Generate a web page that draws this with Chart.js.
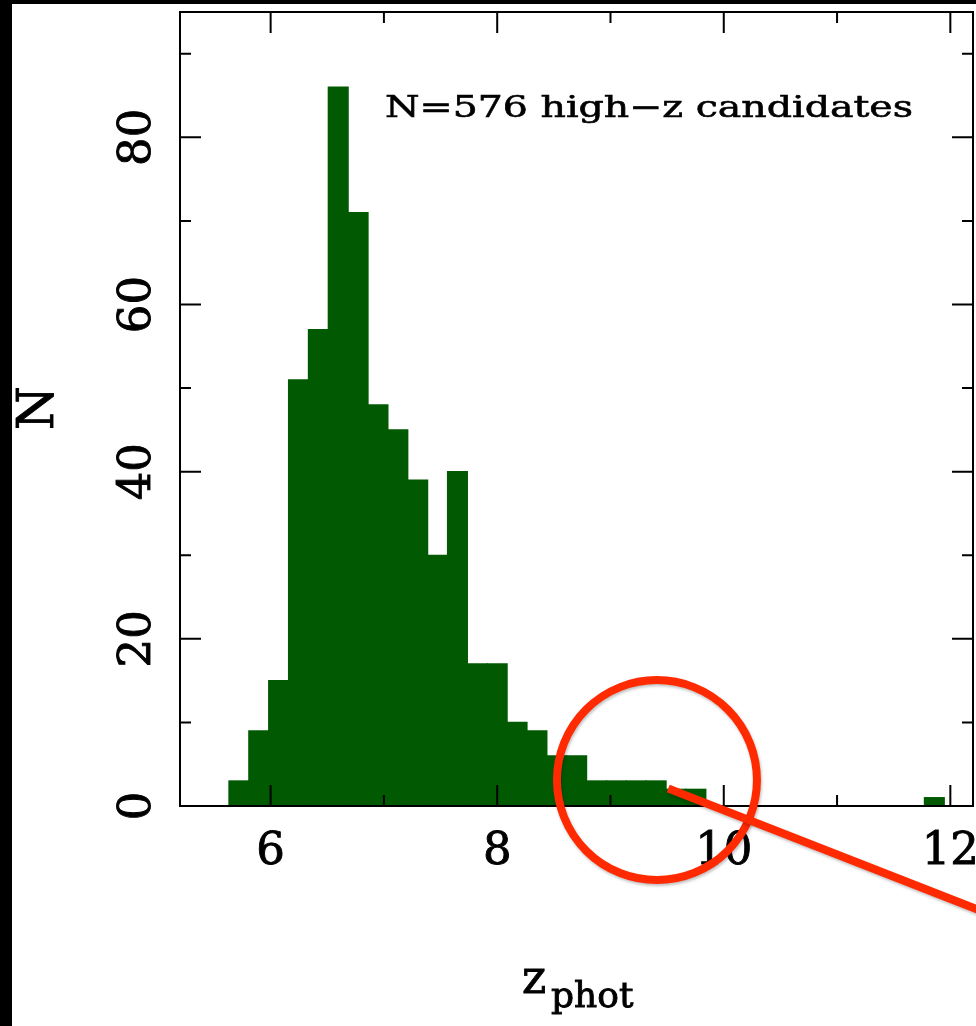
<!DOCTYPE html>
<html>
<head>
<meta charset="utf-8">
<title>z_phot histogram</title>
<script src="https://cdn.jsdelivr.net/npm/chart.js@4.4.1/dist/chart.umd.min.js"></script>
<style>
    body { margin: 0; background: #ffffff; }
    #wrap { position: relative; width: 976px; height: 1026px; overflow: hidden; }
    #edgeLeft { position: absolute; left: 0; top: 0; width: 12px; height: 1026px; background: #000; }
    #edgeTop { position: absolute; left: 0; top: 0; width: 976px; height: 4px; background: #000; }
</style>
</head>
<body>
<div id="wrap">
    <canvas id="histChart" width="976" height="1026"></canvas>
    <div id="edgeLeft"></div>
    <div id="edgeTop"></div>
</div>
<script>
// histogram bins (photometric redshift)
var binStart = 5.632;
var binWidth = 0.1754;

// number of candidates in each bin
var binCounts = [3, 9, 15, 51, 57, 86, 71, 48, 45, 39, 30, 40, 17, 17, 10, 9, 6, 6,
    3, 3, 3, 3, 2, 2, 0, 0, 0, 0, 0, 0, 0, 0, 0, 0, 0, 1];

// axis ticks
var xMajorTicks = [6, 8, 10, 12];
var xMinorTicks = [7, 9, 11];
var yMajorTicks = [0, 20, 40, 60, 80];
var yMinorTicks = [10, 30, 50, 70, 90];

var annotationText = 'N=576 high\u2212z candidates';

// red circle marking the tail (data coords)
var circleCenter = { x: 9.41, y: 3.1 };
var pointerLine = [{ x: 9.51, y: 2.1 }, { x: 12.3, y: -12.7 }];

var histData = binCounts.map(function (count, i) {
    return { x: binStart + (i + 0.5) * binWidth, y: count };
});

// draws the frame, inward ticks, labels and the red marker
var framePlugin = {
    id: 'framePlugin',
    afterDraw: function (chart) {
        var ctx = chart.ctx;
        var area = chart.chartArea;
        var xs = chart.scales.x;
        var ys = chart.scales.y;

        ctx.save();
        ctx.strokeStyle = '#000';
        ctx.lineWidth = 2;
        ctx.strokeRect(area.left, area.top, area.right - area.left, area.bottom - area.top);

        ctx.beginPath();
        function xTick(v, len) {
            var px = xs.getPixelForValue(v);
            ctx.moveTo(px, area.bottom); ctx.lineTo(px, area.bottom - len);
            ctx.moveTo(px, area.top); ctx.lineTo(px, area.top + len);
        }
        function yTick(v, len) {
            var py = ys.getPixelForValue(v);
            ctx.moveTo(area.left, py); ctx.lineTo(area.left + len, py);
            ctx.moveTo(area.right, py); ctx.lineTo(area.right - len, py);
        }
        xMajorTicks.forEach(function (v) { xTick(v, 21); });
        xMinorTicks.forEach(function (v) { xTick(v, 11); });
        yMajorTicks.forEach(function (v) { yTick(v, 21); });
        yMinorTicks.forEach(function (v) { yTick(v, 11); });
        ctx.stroke();

        // slightly heavier glyphs, like the plotting font of the original
        ctx.fillStyle = '#000';
        ctx.lineWidth = 0.9;
        function heavyText(txt, x, y) {
            ctx.fillText(txt, x, y);
            ctx.strokeText(txt, x, y);
        }

        // tick labels
        ctx.font = '45px "DejaVu Serif"';
        ctx.textAlign = 'center';
        ctx.textBaseline = 'alphabetic';
        xMajorTicks.forEach(function (v) {
            heavyText(String(v), xs.getPixelForValue(v), 864);
        });
        yMajorTicks.forEach(function (v) {
            ctx.save();
            ctx.translate(150, ys.getPixelForValue(v));
            ctx.rotate(-Math.PI / 2);
            heavyText(String(v), 0, 0);
            ctx.restore();
        });

        // axis titles
        ctx.save();
        ctx.translate(53, 408);
        ctx.rotate(-Math.PI / 2);
        ctx.font = '50px "DejaVu Serif"';
        heavyText('N', 0, 0);
        ctx.restore();

        ctx.textAlign = 'left';
        ctx.font = '46px "DejaVu Serif"';
        heavyText('z', 522, 993);
        ctx.font = '36px "DejaVu Serif"';
        heavyText('phot', 551, 1007);

        // annotation text, stretched to the width of the original
        ctx.font = '30px "DejaVu Serif"';
        var w = ctx.measureText(annotationText).width;
        ctx.save();
        ctx.translate(385, 117);
        ctx.scale(528 / w, 1);
        ctx.lineWidth = 0.6;
        heavyText(annotationText, 0, 0);
        ctx.restore();

        // red circle and pointer
        ctx.strokeStyle = '#ff2a00';
        ctx.lineWidth = 8;
        ctx.shadowColor = 'rgba(0,0,0,0.25)';
        ctx.shadowBlur = 3;
        ctx.shadowOffsetX = 1;
        ctx.shadowOffsetY = 2;
        ctx.beginPath();
        ctx.arc(xs.getPixelForValue(circleCenter.x), ys.getPixelForValue(circleCenter.y), 100, 0, Math.PI * 2);
        ctx.stroke();
        ctx.beginPath();
        ctx.moveTo(xs.getPixelForValue(pointerLine[0].x), ys.getPixelForValue(pointerLine[0].y));
        ctx.lineTo(xs.getPixelForValue(pointerLine[1].x), ys.getPixelForValue(pointerLine[1].y));
        ctx.stroke();
        ctx.restore();
    }
};

var histCanvas = document.getElementById('histChart').getContext('2d');
var histChart = new Chart(histCanvas, {
    type: 'bar',
    data: {
        datasets: [{
            data: histData,
            backgroundColor: '#015901',
            borderWidth: 0,
            inflateAmount: 0.6,
            barPercentage: 1,
            categoryPercentage: 1
        }]
    },
    options: {
        responsive: false,
        animation: false,
        devicePixelRatio: 1,
        layout: {
            padding: { left: 180, top: 12, right: 3, bottom: 220 }
        },
        scales: {
            x: { type: 'linear', min: 5.2, max: 12.2, offset: false, display: false },
            y: { min: 0, max: 95, display: false }
        },
        plugins: {
            legend: { display: false },
            tooltip: { enabled: false }
        }
    },
    plugins: [framePlugin]
});
</script>
</body>
</html>
